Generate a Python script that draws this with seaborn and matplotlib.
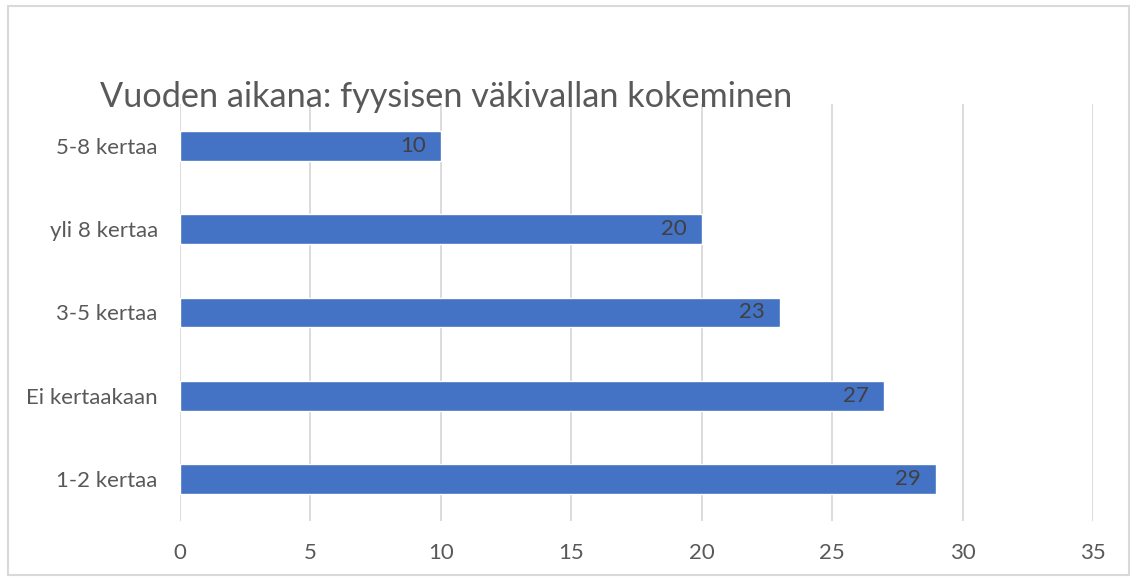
import matplotlib
matplotlib.use("Agg")
import matplotlib.pyplot as plt
import seaborn as sns
import pandas as pd
from matplotlib.patches import Rectangle

# data (top to bottom)
categories = ["5-8 kertaa", "yli 8 kertaa", "3-5 kertaa", "Ei kertaakaan", "1-2 kertaa"]
values = [10, 20, 23, 27, 29]
x_ticks = [0, 5, 10, 15, 20, 25, 30, 35]

df = pd.DataFrame({"kategoria": categories, "arvo": values})

sns.set_style("white")
plt.rcParams["font.family"] = ["Lato", "DejaVu Sans"]

fig = plt.figure(figsize=(11.35, 5.79), dpi=100)
ax = fig.add_axes([180 / 1135, 1 - 520.5 / 579, (1093 - 180) / 1135, (520.5 - 104.5) / 579])

sns.barplot(data=df, y="kategoria", x="arvo", orient="h", color="#4472C4",
            saturation=1, width=0.36, ax=ax, order=categories)

ax.set_xlim(0, 35)
ax.set_ylim(4.5, -0.5)
ax.set_xticks(x_ticks)
ax.xaxis.grid(True, color="#d9d9d9", linewidth=1.3)
ax.set_axisbelow(True)
for s in ax.spines.values():
    s.set_visible(False)
ax.tick_params(axis="both", length=0, colors="#595959", labelsize=16)
ax.tick_params(axis="x", pad=16)
ax.tick_params(axis="y", pad=16)
ax.set_xlabel("")
ax.set_ylabel("")

# value labels inside bar end
for i, v in enumerate(values):
    ax.annotate(str(v), xy=(v, i), xytext=(-11, 0), textcoords="offset points",
                ha="right", va="center", fontsize=16, color="#404040")

fig.text(100 / 1135, 1 - 107 / 579, "Vuoden aikana: fyysisen väkivallan kokeminen",
         fontsize=24.7, color="#595959", ha="left", va="baseline")

# outer chart border
fig.patches.append(Rectangle((8 / 1135, 4 / 579), 1121 / 1135, 569 / 579,
                             transform=fig.transFigure, fill=False,
                             edgecolor="#d9d9d9", linewidth=1.5))

fig.savefig("out.png", dpi=100)
